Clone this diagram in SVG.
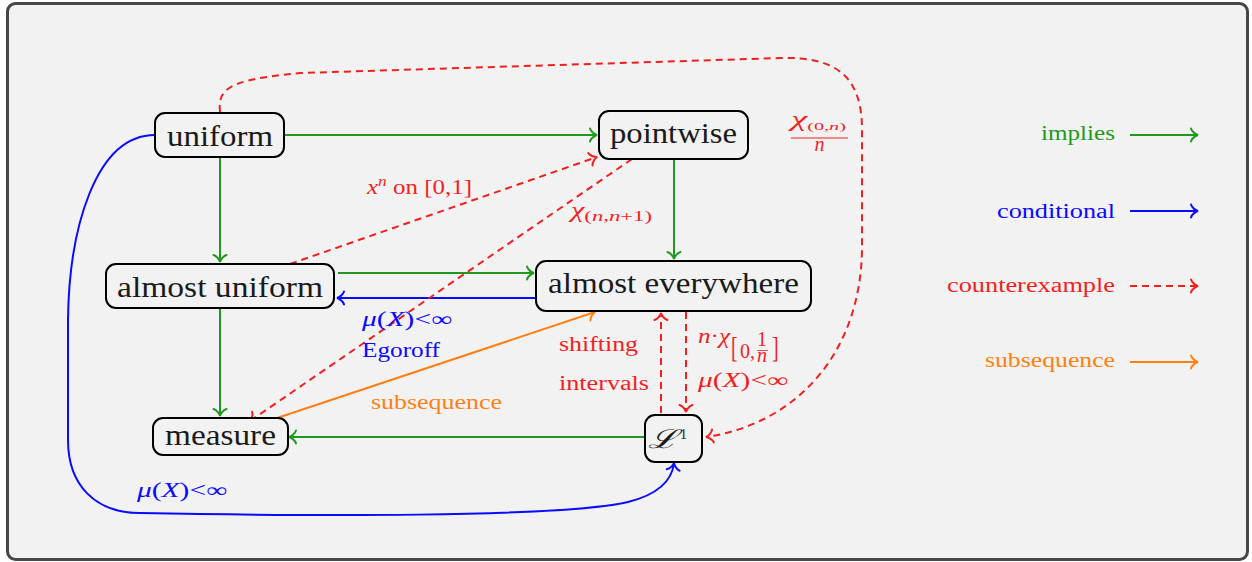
<svg xmlns="http://www.w3.org/2000/svg" width="1252" height="562" viewBox="0 0 1252 562">
<style>
.node rect{fill:#f2f2f2;stroke:#000;stroke-width:2}
.nt{font-family:"Liberation Serif","DejaVu Serif",serif;font-size:29px;fill:#1a1a1a;text-anchor:middle}
.lb{font-family:"Liberation Serif","DejaVu Serif",serif;font-size:20px}
.it{font-style:italic}
.g{stroke:#1f9a1f;fill:none;stroke-width:2}
.b{stroke:#0a0aff;fill:none;stroke-width:2}
.r{stroke:#f21f1f;fill:none;stroke-width:2;stroke-dasharray:7,5}
.o{stroke:#ff8012;fill:none;stroke-width:2}
.tg{fill:#1f9a1f}.tb{fill:#0a0aff}.tr{fill:#f21f1f}.to{fill:#ff8012}
</style>
<defs>
<marker id="mg" markerUnits="userSpaceOnUse" markerWidth="20" markerHeight="20" refX="10" refY="10" orient="auto" overflow="visible"><path d="M3,3.5 C4,7 8,9.5 10,10 C8,10.5 4,13 3,16.5" fill="none" stroke="#1f9a1f" stroke-width="2" stroke-linecap="round"/></marker>
<marker id="mb" markerUnits="userSpaceOnUse" markerWidth="20" markerHeight="20" refX="10" refY="10" orient="auto" overflow="visible"><path d="M3,3.5 C4,7 8,9.5 10,10 C8,10.5 4,13 3,16.5" fill="none" stroke="#0a0aff" stroke-width="2" stroke-linecap="round"/></marker>
<marker id="mr" markerUnits="userSpaceOnUse" markerWidth="20" markerHeight="20" refX="10" refY="10" orient="auto" overflow="visible"><path d="M3,3.5 C4,7 8,9.5 10,10 C8,10.5 4,13 3,16.5" fill="none" stroke="#f21f1f" stroke-width="2" stroke-linecap="round"/></marker>
<marker id="mo" markerUnits="userSpaceOnUse" markerWidth="20" markerHeight="20" refX="10" refY="10" orient="auto" overflow="visible"><path d="M3,3.5 C4,7 8,9.5 10,10 C8,10.5 4,13 3,16.5" fill="none" stroke="#ff8012" stroke-width="2" stroke-linecap="round"/></marker>
</defs>
<rect x="7.5" y="3.5" width="1240" height="556" rx="8" fill="#f2f2f2" stroke="#474747" stroke-width="3"/>

<g id="connectors">
<path class="g" d="M285,135 L597,135" marker-end="url(#mg)"/>
<path class="g" d="M220,158 L220,262" marker-end="url(#mg)"/>
<path class="g" d="M674,160 L674,259" marker-end="url(#mg)"/>
<path class="g" d="M338,273 L534,273" marker-end="url(#mg)"/>
<path class="b" d="M536,298 L337,298" marker-end="url(#mb)"/>
<path class="g" d="M220,309 L220,416" marker-end="url(#mg)"/>
<path class="g" d="M646,437 L289,437" marker-end="url(#mg)"/>
<path class="o" d="M277,418 L595,312" marker-end="url(#mo)"/>
<path class="r" d="M661,413 L661,313" marker-end="url(#mr)"/>
<path class="r" d="M686,312 L686,412" marker-end="url(#mr)"/>
<path class="r" d="M290,264 L597,157" marker-end="url(#mr)"/>
<path class="r" d="M632,159 L250,421" marker-end="url(#mr)"/>
<path class="r" d="M220,112 C218,90 225,80 300,73 L780,58 C840,56 862,80 862,130 L862,250 C860,360 790,425 706,437" marker-end="url(#mr)"/>
<path class="b" d="M155,135 C95,135 69,230 68,320 L68,440 C68,485 95,513 140,513 C300,516 560,518 628,502 C660,494 672,480 674,463" marker-end="url(#mb)"/>
</g>

<g id="n-uniform" class="node"><rect x="155" y="113" width="129" height="44" rx="10"/><text class="nt" x="220" y="146" textLength="106" lengthAdjust="spacingAndGlyphs">uniform</text></g>
<g id="n-pointwise" class="node"><rect x="599" y="111" width="149" height="48" rx="10"/><text class="nt" x="673.5" y="143" textLength="127" lengthAdjust="spacingAndGlyphs">pointwise</text></g>
<g id="n-almostuniform" class="node"><rect x="106" y="264" width="228" height="44" rx="10"/><text class="nt" x="220" y="297" textLength="206" lengthAdjust="spacingAndGlyphs">almost uniform</text></g>
<g id="n-ae" class="node"><rect x="536" y="261" width="275" height="50" rx="10"/><text class="nt" x="673.5" y="293" textLength="251" lengthAdjust="spacingAndGlyphs">almost everywhere</text></g>
<g id="n-measure" class="node"><rect x="153" y="418" width="135" height="37" rx="10"/><text class="nt" x="220.5" y="445" textLength="111" lengthAdjust="spacingAndGlyphs">measure</text></g>
<g id="n-L1" class="node"><rect x="645" y="415" width="57" height="47" rx="10"/><text x="648" y="448" font-family="DejaVu Serif,serif" font-style="italic" font-size="26" fill="#1a1a1a" textLength="30" lengthAdjust="spacingAndGlyphs">ℒ</text><text x="680" y="439" font-family="Liberation Serif,serif" font-size="14" fill="#1a1a1a">1</text></g>

<g id="labels">
<text class="lb tr" x="367" y="194" textLength="105" lengthAdjust="spacingAndGlyphs"><tspan class="it">x</tspan><tspan class="it" font-size="14" dy="-8">n</tspan><tspan dy="8"> on [0,1]</tspan></text>
<text class="lb tr" x="571" y="217" textLength="81" lengthAdjust="spacingAndGlyphs"><tspan class="it">χ</tspan><tspan font-size="15" dy="4">(<tspan class="it">n</tspan>,<tspan class="it">n</tspan>+1)</tspan></text>
<g id="frac">
<text class="lb tr" x="791" y="126" font-size="14" textLength="55" lengthAdjust="spacingAndGlyphs"><tspan class="it">χ</tspan><tspan font-size="11" dy="4">(0,<tspan class="it">n</tspan>)</tspan></text>
<line x1="791" y1="138" x2="848" y2="138" stroke="#f21f1f" stroke-width="1"/>
<text class="lb tr it" x="819.5" y="151" font-size="13" text-anchor="middle">n</text>
</g>
<text class="lb tb" x="362" y="326" textLength="90" lengthAdjust="spacingAndGlyphs"><tspan class="it">μ</tspan>(<tspan class="it">X</tspan>)&lt;∞</text>
<text class="lb tb" x="362" y="357" textLength="78" lengthAdjust="spacingAndGlyphs">Egoroff</text>
<text class="lb tr" x="559" y="351" textLength="79" lengthAdjust="spacingAndGlyphs">shifting</text>
<text class="lb tr" x="559" y="390" textLength="90" lengthAdjust="spacingAndGlyphs">intervals</text>
<text class="lb tr" x="698" y="343" textLength="32" lengthAdjust="spacingAndGlyphs"><tspan class="it">n</tspan>·<tspan class="it">χ</tspan></text>
<text class="lb tr" x="0" y="0" font-size="20" transform="translate(731,357) scale(1,1.5)">[</text>
<text class="lb tr" x="740" y="358" font-size="15">0,</text>
<text class="lb tr" x="762" y="346" font-size="10" text-anchor="middle">1<tspan x="762" dy="16" font-style="italic">n</tspan></text>
<line x1="757" y1="350.5" x2="768" y2="350.5" stroke="#f21f1f" stroke-width="0.8"/>
<text class="lb tr" x="0" y="0" font-size="20" transform="translate(772,357) scale(1,1.5)">]</text>
<text class="lb tr" x="698" y="387" textLength="90" lengthAdjust="spacingAndGlyphs"><tspan class="it">μ</tspan>(<tspan class="it">X</tspan>)&lt;∞</text>
<text class="lb to" x="371" y="409" textLength="131" lengthAdjust="spacingAndGlyphs">subsequence</text>
<text class="lb tb" x="137" y="497" textLength="90" lengthAdjust="spacingAndGlyphs"><tspan class="it">μ</tspan>(<tspan class="it">X</tspan>)&lt;∞</text>
</g>

<g id="legend">
<text class="lb tg" x="1115" y="140" text-anchor="end" textLength="74" lengthAdjust="spacingAndGlyphs">implies</text>
<path class="g" d="M1130,135 L1198,135" marker-end="url(#mg)"/>
<text class="lb tb" x="1115" y="218" text-anchor="end" textLength="118" lengthAdjust="spacingAndGlyphs">conditional</text>
<path class="b" d="M1130,211 L1198,211" marker-end="url(#mb)"/>
<text class="lb tr" x="1115" y="292" text-anchor="end" textLength="168" lengthAdjust="spacingAndGlyphs">counterexample</text>
<path class="r" d="M1130,286 L1198,286" marker-end="url(#mr)"/>
<text class="lb to" x="1115" y="367" text-anchor="end" textLength="130" lengthAdjust="spacingAndGlyphs">subsequence</text>
<path class="o" d="M1130,362 L1198,362" marker-end="url(#mo)"/>
</g>
</svg>
